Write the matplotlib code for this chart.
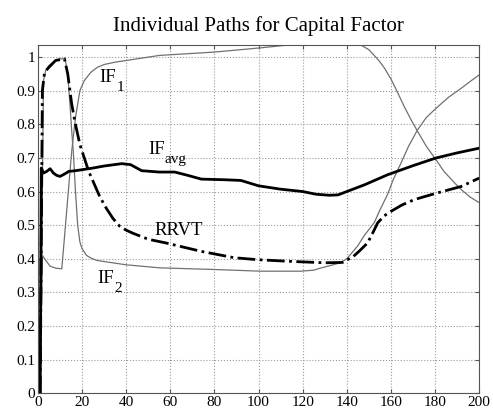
import matplotlib
matplotlib.use("Agg")
import matplotlib.pyplot as plt

plt.rcParams['font.family'] = ['Liberation Serif', 'DejaVu Serif']

# IF_1 path
if1_x = [1, 2, 3.2, 5.5, 8, 10.8, 12, 13.5, 15.3, 17, 19, 21, 24, 27, 30, 35, 40, 55, 80,
         100, 115, 125, 135, 143, 146.4, 150, 152, 154.5, 157, 160, 163, 166, 169, 172, 176,
         180.5, 184, 188.8, 192, 196, 200]
if1_y = [0, 0.41, 0.398, 0.378, 0.372, 0.37, 0.463, 0.58, 0.72, 0.82, 0.9, 0.93, 0.955, 0.97,
         0.978, 0.985, 0.99, 1.005, 1.015, 1.027, 1.037, 1.045, 1.05, 1.045, 1.036, 1.022, 1.008,
         0.99, 0.968, 0.935, 0.895, 0.853, 0.815, 0.78, 0.735, 0.694, 0.66, 0.626, 0.605, 0.583,
         0.567]

# IF_2 path
if2_x = [1, 2.5, 3.5, 5, 8, 10, 12.3, 13.5, 14.5, 15.3, 16, 17, 18, 19, 20, 22, 24, 26.7, 32.7,
         40, 55, 80, 101, 119, 125, 128, 132.7, 137, 140, 144.8, 148, 152.4, 155, 158.5, 161,
         164.5, 168, 172, 176, 180.5, 186, 191.8, 196, 200]
if2_y = [0, 0.93, 0.96, 0.975, 0.99, 0.995, 0.995, 0.95, 0.86, 0.78, 0.72, 0.6, 0.5, 0.45, 0.43,
         0.41, 0.402, 0.395, 0.389, 0.382, 0.373, 0.368, 0.363, 0.363, 0.366, 0.372, 0.38, 0.388,
         0.4, 0.437, 0.47, 0.507, 0.545, 0.592, 0.635, 0.684, 0.735, 0.783, 0.82, 0.848, 0.88,
         0.907, 0.928, 0.947]

# RRVT path
rrvt_x = [1, 2, 3, 5, 8, 12, 13.5, 15.3, 17, 19, 21, 23, 25, 28, 31, 34, 37, 40, 43, 50, 58, 74,
          89, 100, 115, 130, 138, 143, 146, 149.4, 152, 154, 157, 160, 165, 170.6, 180.5, 191.8, 200]
rrvt_y = [0, 0.9, 0.955, 0.97, 0.99, 0.995, 0.95, 0.86, 0.8, 0.74, 0.7, 0.66, 0.63, 0.585, 0.55,
          0.52, 0.497, 0.485, 0.476, 0.458, 0.447, 0.422, 0.403, 0.397, 0.392, 0.388, 0.389, 0.407,
          0.425, 0.447, 0.48, 0.507, 0.528, 0.541, 0.56, 0.576, 0.595, 0.615, 0.64]

# IF_avg path
avg_x = [1, 1.5, 2.5, 4, 5.5, 7, 8.5, 10, 12, 14, 17, 20, 25, 30, 38, 42, 47, 55, 62, 68, 74, 85,
         92, 100, 110, 120, 126, 132, 136, 140, 148, 158.5, 170, 180.5, 190, 200]
avg_y = [0, 0.67, 0.655, 0.66, 0.668, 0.655, 0.648, 0.645, 0.652, 0.66, 0.662, 0.665, 0.67, 0.676,
         0.683, 0.68, 0.662, 0.658, 0.658, 0.648, 0.637, 0.635, 0.633, 0.617, 0.607, 0.6, 0.592,
         0.589, 0.59, 0.6, 0.62, 0.65, 0.677, 0.7, 0.715, 0.729]

x_ticks = list(range(0, 201, 20))
y_ticks = [0, 0.1, 0.2, 0.3, 0.4, 0.5, 0.6, 0.7, 0.8, 0.9, 1]
y_ticklabels = ['0', '0.1', '0.2', '0.3', '0.4', '0.5', '0.6', '0.7', '0.8', '0.9', '1']

fig = plt.figure(figsize=(4.93, 4.13), dpi=100)
ax = fig.add_axes([0.077, 0.048, 0.895, 0.843])

ax.plot(if1_x, if1_y, color='#707070', lw=0.9)
ax.plot(if2_x, if2_y, color='#707070', lw=0.9)
ax.plot(rrvt_x, rrvt_y, color='black', lw=2.0, ls='-.')
ax.plot(avg_x, avg_y, color='black', lw=2.0)

ax.set_xlim(0, 200)
ax.set_ylim(0, 1.036)
ax.set_xticks(x_ticks)
ax.set_yticks(y_ticks)
ax.set_yticklabels(y_ticklabels)
ax.tick_params(direction='in', length=3, labelsize=11, pad=2,
               top=True, right=True, color='#555555')
ax.grid(True, ls=':', color='#9a9a9a', lw=0.8)
for s in ax.spines.values():
    s.set_color('#555555')


def label(x, y, main, sub):
    ax.text(x, y, main, fontsize=13.5, va='center', ha='left')
    if sub:
        ax.annotate(sub, xy=(x, y), xytext=(12, -7), textcoords='offset points',
                    fontsize=11, va='center', ha='left')


label(28, 0.94, 'IF', '1')
label(50, 0.725, 'IF', 'avg')
label(53, 0.484, 'RRVT', None)
label(27, 0.34, 'IF', '2')

ax.set_title('Individual Paths for Capital Factor', fontsize=15, pad=10)

fig.savefig('out.png', dpi=100)
